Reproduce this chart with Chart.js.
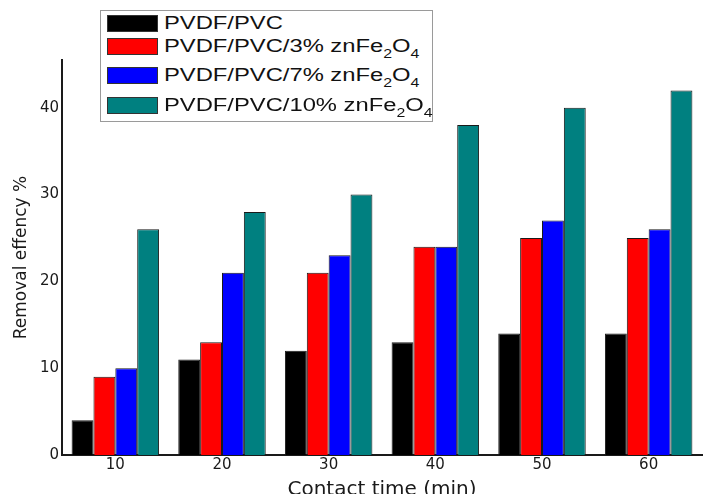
<!DOCTYPE html>
<html>
<head>
<meta charset="utf-8">
<script src="https://cdn.jsdelivr.net/npm/chart.js@4/dist/chart.umd.min.js"></script>
<style>
  html, body { margin: 0; padding: 0; background: #fff; }
  #wrap { position: relative; width: 704px; height: 494px; }
  #chart { position: absolute; left: 0; top: 0; }
  #legend {
    position: absolute; left: 100px; top: 10px; width: 331px; height: 110px;
    border: 1px solid #9a9a9a; background: #fff;
    font-family: "Liberation Sans", Arial, sans-serif; font-size: 18px; color: #111;
  }
  .row { position: absolute; left: 6px; height: 17px; white-space: nowrap; }
  .sw { position: absolute; left: 0; top: 0; width: 49px; height: 15px; border: 1px solid #333; }
  .txt { position: absolute; left: 57px; top: -3px; line-height: 22px;
         transform: scaleX(1.32); transform-origin: left center; }
  .txt sub { font-size: 12px; vertical-align: -6px; line-height: 0; }
</style>
</head>
<body>
<div id="wrap">
  <canvas id="chart" width="704" height="494"></canvas>
  <div id="legend"></div>
</div>
<script>
const categories = ['10', '20', '30', '40', '50', '60'];
const seriesNames = ['PVDF/PVC', 'PVDF/PVC/3% znFe2O4', 'PVDF/PVC/7% znFe2O4', 'PVDF/PVC/10% znFe2O4'];
const pvdfPvc   = [4, 11, 12, 13, 14, 14];
const zn3       = [9, 13, 21, 24, 25, 25];
const zn7       = [10, 21, 23, 24, 27, 26];
const zn10      = [26, 28, 30, 38, 40, 42];
const yTicks    = [0, 10, 20, 30, 40];
const colors    = ['#000000', '#ff0000', '#0000ff', '#008080'];

const seriesValues = [pvdfPvc, zn3, zn7, zn10];

// legend drawn in html so the subscripts stay real text
const legendTops = [4, 27, 56, 86];
document.getElementById('legend').innerHTML = seriesNames.map((name, i) => {
  const label = name.replace('znFe2O4', 'znFe<sub>2</sub>O<sub>4</sub>');
  return `<div class="row" style="top:${legendTops[i]}px">
      <div class="sw" style="background:${colors[i]}"></div>
      <div class="txt">${label}</div>
    </div>`;
}).join('');

new Chart(document.getElementById('chart'), {
  type: 'bar',
  data: {
    labels: categories,
    datasets: seriesValues.map((vals, i) => ({
      label: seriesNames[i],
      data: vals,
      backgroundColor: colors[i],
      borderColor: '#1a1a1a',
      borderWidth: 1,
      categoryPercentage: 0.82,
      barPercentage: 1
    }))
  },
  options: {
    responsive: false,
    animation: false,
    devicePixelRatio: 1,
    layout: { padding: { top: 60, right: 2, left: 0, bottom: 0 } },
    plugins: {
      legend: { display: false },
      tooltip: { enabled: false }
    },
    scales: {
      x: {
        grid: { display: false, drawTicks: false },
        border: { display: true, color: '#1a1a1a', width: 2 },
        ticks: {
          color: '#1a1a1a',
          padding: 1,
          font: { family: 'DejaVu Sans', size: 15 }
        },
        title: {
          display: true,
          text: 'Contact time (min)',
          color: '#1a1a1a',
          font: { family: 'DejaVu Sans', size: 20, lineHeight: 1.2 },
          padding: { top: 0, bottom: -8 }
        },
        afterFit: s => { s.height = 39; }
      },
      y: {
        min: 0,
        max: 45.5,
        grid: { display: false, drawTicks: false },
        border: { display: true, color: '#1a1a1a', width: 2 },
        afterBuildTicks: s => { s.ticks = yTicks.map(v => ({ value: v })); },
        ticks: {
          color: '#1a1a1a',
          padding: 3,
          font: { family: 'DejaVu Sans', size: 15 }
        },
        title: {
          display: true,
          text: 'Removal effency %',
          color: '#1a1a1a',
          font: { family: 'DejaVu Sans', size: 17, lineHeight: 1.2 },
          padding: { top: 11, bottom: 0 }
        },
        afterFit: s => { s.width = 62; }
      }
    }
  }
});
</script>
</body>
</html>
